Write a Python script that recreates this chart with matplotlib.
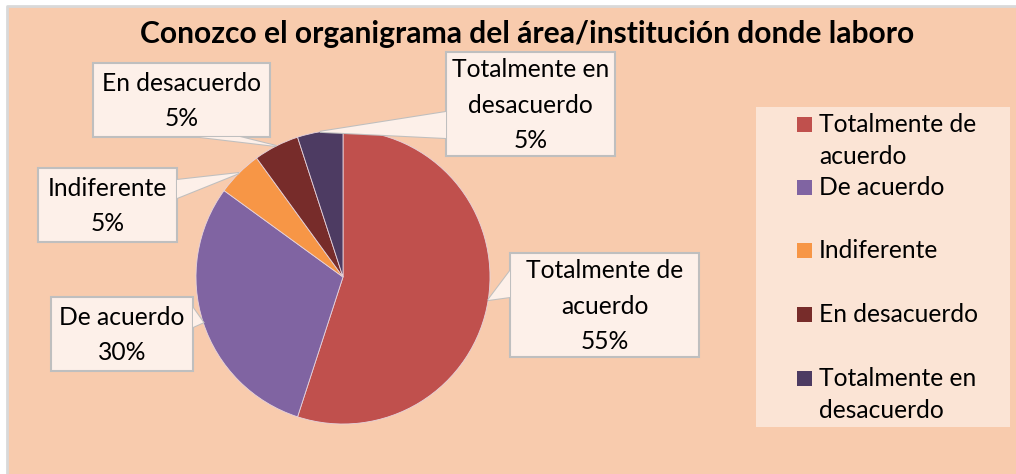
import matplotlib
matplotlib.use("Agg")
import matplotlib.pyplot as plt
import numpy as np
from matplotlib.patches import Rectangle, Polygon

# ---- data ----
categories = ["Totalmente de acuerdo", "De acuerdo", "Indiferente",
              "En desacuerdo", "Totalmente en desacuerdo"]
values = [55, 30, 5, 5, 5]
callout_labels = ["Totalmente de\nacuerdo\n55%", "De acuerdo\n30%", "Indiferente\n5%",
                  "En desacuerdo\n5%", "Totalmente en\ndesacuerdo\n5%"]
legend_labels = ["Totalmente de\nacuerdo", "De acuerdo", "Indiferente",
                 "En desacuerdo", "Totalmente en\ndesacuerdo"]
colors = ["#C0504D", "#8064A2", "#F79646", "#772C2A", "#4D3B62"]
title = "Conozco el organigrama del área/institución donde laboro"

plt.rcParams['font.family'] = ['Lato', 'DejaVu Sans']

W, H = 1016, 474
fig = plt.figure(figsize=(W / 100, H / 100), dpi=100)
fig.patch.set_facecolor("white")
ax = fig.add_axes([0, 0, 1, 1])

def Y(y):  # pixel from top -> data y
    return H - y

# chart background + border
ax.add_patch(Rectangle((7, -5), W - 7 + 10, Y(6) + 5, facecolor="#F8CBAD",
                       edgecolor="none", zorder=0))
ax.plot([7, 7, W + 5], [-5, Y(6), Y(6)], color="#D9D9D9", lw=2, zorder=0.5)

# pie
cx, cy, r = 343, Y(277), 147
wedges, _ = ax.pie(values, colors=colors, startangle=90, counterclock=False,
                   center=(cx, cy), radius=r,
                   wedgeprops=dict(edgecolor="#E6D3DC", linewidth=0.6))
for w in wedges:
    w.set_zorder(2)

ax.set_xlim(0, W)
ax.set_ylim(0, H)
ax.set_aspect('auto')
ax.axis('off')

# callout boxes: (x0, y0, x1, y1) in pixels from top-left; pointer side & base span
boxes = [
    ((510, 253, 699, 357), ('left', 271, 297)),
    ((51, 297, 193, 371), ('right', 308, 327)),
    ((38, 168, 177, 242), ('right', 180, 198)),
    ((93, 63, 270, 137), ('bottom', 200, 240)),
    ((446, 52, 615, 156), ('left', 112, 138)),
]

cum = np.cumsum([0] + values)
total = float(sum(values))
fs = 17.7
ls = 1.65
for i, ((x0, y0, x1, y1), (side, a, b)) in enumerate(boxes):
    mid = (cum[i] + cum[i + 1]) / 2 / total * 360.0
    ang = np.deg2rad(90 - mid)
    tip = (cx + r * np.cos(ang), cy + r * np.sin(ang))
    fill, edge = "#FDF0E9", "#BFBFBF"
    ax.add_patch(Rectangle((x0, Y(y1)), x1 - x0, y1 - y0, facecolor=fill,
                           edgecolor=edge, linewidth=1.5, zorder=4))
    if side == 'left':
        p1, p2 = (x0, Y(a)), (x0, Y(b))
    elif side == 'right':
        p1, p2 = (x1, Y(a)), (x1, Y(b))
    else:
        p1, p2 = (a, Y(y1)), (b, Y(y1))
    ax.add_patch(Polygon([p1, tip, p2], closed=True, facecolor=fill,
                         edgecolor=edge, linewidth=1.5, zorder=3.9))
    ax.add_patch(Polygon([p1, tip, p2], closed=True, facecolor=fill,
                         edgecolor="none", zorder=4.1))
    ax.text((x0 + x1) / 2, Y((y0 + y1) / 2) - 1, callout_labels[i], ha='center', va='center',
            fontsize=fs, linespacing=ls, color="black", zorder=5)

# legend
ax.add_patch(Rectangle((756, Y(427)), 1010 - 756, 427 - 107, facecolor="#FBE4D5",
                       edgecolor="none", zorder=1))
leg_y = [124.5, 187.5, 250.5, 314.5, 378.5]
for i, lab in enumerate(legend_labels):
    ax.add_patch(Rectangle((797, Y(leg_y[i]) - 7.5), 15, 15, facecolor=colors[i],
                           edgecolor="none", zorder=2))
    ax.text(819, Y(leg_y[i]), lab.split("\n")[0], ha='left', va='center', fontsize=fs,
            color="black", zorder=3)
    if "\n" in lab:
        ax.text(819, Y(leg_y[i] + 32), lab.split("\n")[1], ha='left', va='center',
                fontsize=fs, color="black", zorder=3)

ax.text(527, Y(34), title, ha='center', va='center', fontsize=21.6,
        fontweight='bold', color="black", zorder=3)

fig.savefig("out.png", dpi=100, facecolor=fig.get_facecolor())
